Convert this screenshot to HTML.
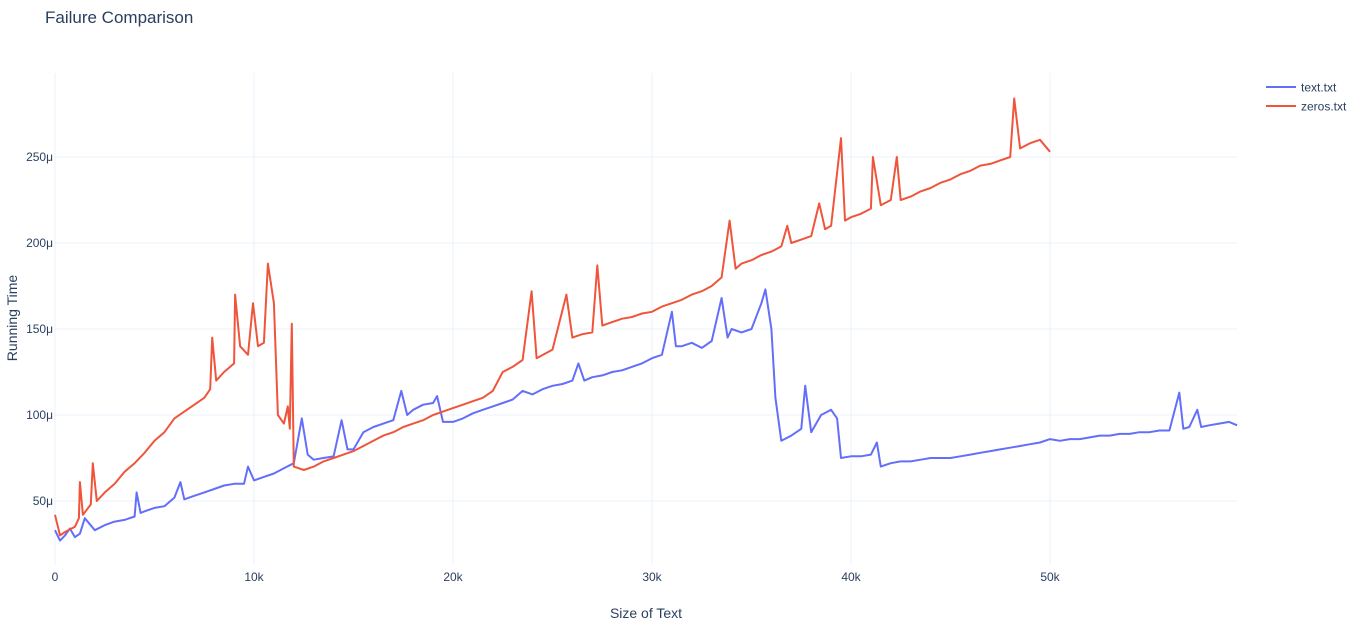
<!DOCTYPE html>
<html><head><meta charset="utf-8"><style>
body{margin:0;background:#fff;}
svg{display:block;font-family:"Liberation Sans",sans-serif;}
</style></head><body>
<svg id="chart" width="1359" height="627">
<text x="45" y="23" font-size="17" fill="#2a3f5f">Failure Comparison</text>
<g id="grid"></g>
<g id="series"></g>
<text x="646" y="618" font-size="14" fill="#2a3f5f" text-anchor="middle">Size of Text</text>
<text x="17" y="318" font-size="14" fill="#2a3f5f" text-anchor="middle" transform="rotate(-90 17 318)">Running Time</text>
<g>
<g><line x1="1266" y1="87" x2="1296" y2="87" stroke="#636efa" stroke-width="2"/><text x="1301" y="91.5" font-size="12" fill="#2a3f5f">text.txt</text></g>
<g><line x1="1266" y1="106" x2="1296" y2="106" stroke="#ef553b" stroke-width="2"/><text x="1301" y="110.5" font-size="12" fill="#2a3f5f">zeros.txt</text></g>
</g>
</svg>
<script>
const xTicks=[0,10000,20000,30000,40000,50000];
const xTickLabels=["0","10k","20k","30k","40k","50k"];
const yTicks=[50,100,150,200,250];
const yTickLabels=["50μ","100μ","150μ","200μ","250μ"];
const textX=[0,0.25,0.5,0.75,1,1.25,1.5,2,2.5,3,3.5,4,4.1,4.3,4.5,5,5.5,6,6.3,6.5,7,7.5,8,8.5,9,9.5,9.7,10,10.5,11,11.5,12,12.4,12.7,13,13.5,14,14.4,14.7,15,15.5,16,16.5,17,17.4,17.7,18,18.5,19,19.2,19.5,20,20.5,21,21.5,22,22.5,23,23.5,24,24.5,25,25.5,26,26.3,26.6,27,27.5,28,28.5,29,29.5,30,30.5,31,31.2,31.5,32,32.5,33,33.5,33.8,34,34.5,35,35.5,35.7,36,36.2,36.5,37,37.5,37.7,38,38.5,39,39.3,39.5,40,40.5,41,41.3,41.5,42,42.5,43,43.5,44,44.5,45,45.5,46,46.5,47,47.5,48,48.5,49,49.5,50,50.5,51,51.5,52,52.5,53,53.5,54,54.5,55,55.5,56,56.5,56.7,57,57.4,57.6,58,58.5,59,59.4];
const textY=[33,27,30,34,29,31,40,33,36,38,39,41,55,43,44,46,47,52,61,51,53,55,57,59,60,60,70,62,64,66,69,72,98,77,74,75,76,97,80,80,90,93,95,97,114,100,103,106,107,111,96,96,98,101,103,105,107,109,114,112,115,117,118,120,130,120,122,123,125,126,128,130,133,135,160,140,140,142,139,143,168,145,150,148,150,165,173,150,110,85,88,92,117,90,100,103,98,75,76,76,77,84,70,72,73,73,74,75,75,75,76,77,78,79,80,81,82,83,84,86,85,86,86,87,88,88,89,89,90,90,91,91,113,92,93,103,93,94,95,96,94];
const zerosX=[0,0.25,0.5,1,1.2,1.25,1.4,1.8,1.9,2.1,2.5,3,3.5,4,4.5,5,5.5,6,6.5,7,7.5,7.8,7.9,8.1,8.5,9,9.05,9.3,9.7,9.95,10.2,10.5,10.7,11,11.2,11.5,11.7,11.8,11.9,12,12.5,13,13.5,14,14.5,15,15.5,16,16.5,17,17.5,18,18.5,19,19.5,20,20.5,21,21.5,22,22.5,23,23.5,23.95,24.2,25,25.7,26,26.5,27,27.25,27.5,28,28.5,29,29.5,30,30.5,31,31.5,32,32.5,33,33.5,33.9,34.2,34.5,35,35.5,36,36.5,36.8,37,37.5,38,38.4,38.7,39,39.5,39.7,40,40.5,41,41.1,41.5,42,42.3,42.5,43,43.5,44,44.5,45,45.5,46,46.5,47,47.5,48,48.2,48.5,49,49.5,50];
const zerosY=[42,30,32,35,40,61,42,48,72,50,55,60,67,72,78,85,90,98,102,106,110,115,145,120,125,130,170,140,135,165,140,142,188,165,100,95,105,92,153,70,68,70,73,75,77,79,82,85,88,90,93,95,97,100,102,104,106,108,110,114,125,128,132,172,133,138,170,145,147,148,187,152,154,156,157,159,160,163,165,167,170,172,175,180,213,185,188,190,193,195,198,210,200,202,204,223,208,210,261,213,215,217,220,250,222,225,250,225,227,230,232,235,237,240,242,245,246,248,250,284,255,258,260,253];
const L=55,R=1237,T=73,B=565;
const xs=v=>L+v/1000*19.9;
const ys=v=>587-v*1.72;
const NS="http://www.w3.org/2000/svg";
const grid=document.getElementById('grid');
function mk(tag,attrs,parent){const e=document.createElementNS(NS,tag);for(const k in attrs)e.setAttribute(k,attrs[k]);parent.appendChild(e);return e;}
xTicks.forEach((t,i)=>{
 const x=xs(t);
 const g=mk('line',{x1:x,x2:x,y1:T,y2:B,stroke:i===0?'#ebf0f8':'#ebf0f8','stroke-width':1},grid);
 
 
 const tx=mk('text',{x:x,y:B+16,'font-size':12,fill:'#2a3f5f','text-anchor':'middle'},grid);
 tx.textContent=xTickLabels[i];
 
 
});
yTicks.forEach((t,i)=>{
 const y=ys(t);
 const g=mk('line',{x1:L,x2:R,y1:y,y2:y,stroke:'#ebf0f8','stroke-width':1},grid);
 
 
 const tx=mk('text',{x:L-2,y:y+4,'font-size':12,fill:'#2a3f5f','text-anchor':'end'},grid);
 tx.textContent=yTickLabels[i];
 
 
});
const ser=document.getElementById('series');
function line(X,Y,color,name){
 const d=X.map((x,i)=>(i?'L':'M')+xs(x*1000).toFixed(1)+','+ys(Y[i]).toFixed(1)).join('');
 const p=mk('path',{d:d,fill:'none',stroke:color,'stroke-width':2,'stroke-linejoin':'round'},ser);
 
 
}
line(textX,textY,'#636efa','text-txt-line');
line(zerosX,zerosY,'#ef553b','zeros-txt-line');
</script>
</body></html>
